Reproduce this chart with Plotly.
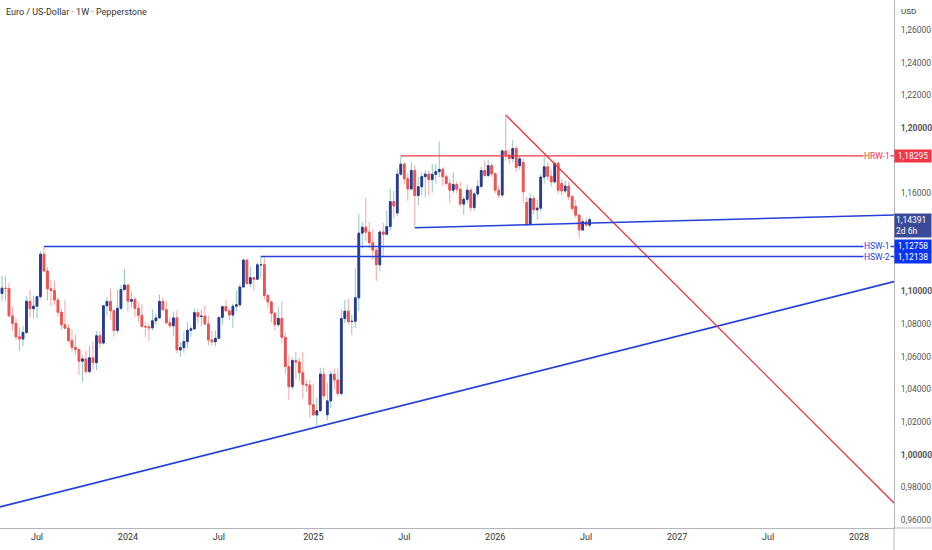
import pandas as pd
import plotly.graph_objects as go

# Weekly EUR/USD candles, Monday dated, from 2023-04-10 to 2026-07-13
first_week = "2023-04-10"

opens = [
    # 2023
    1.0903, 1.0993, 1.0988,
    1.1020, 1.1018, 1.0850, 1.0805, 1.0722,
    1.0709, 1.0749, 1.0940, 1.0894,
    1.0910, 1.0968, 1.1228, 1.1125, 1.1016,
    1.1006, 1.0947, 1.0872, 1.0796,
    1.0775, 1.0700, 1.0657, 1.0645,
    1.0573, 1.0587, 1.0510, 1.0594, 1.0564,
    1.0729, 1.0684, 1.0912, 1.0939,
    1.0882, 1.0761, 1.0897, 1.1012,
    # 2024
    1.1039, 1.0940, 1.0951, 1.0897, 1.0854,
    1.0786, 1.0783, 1.0777, 1.0820,
    1.0838, 1.0939, 1.0888, 1.0808,
    1.0790, 1.0838, 1.0642, 1.0656, 1.0693,
    1.0762, 1.0771, 1.0870, 1.0847,
    1.0849, 1.0801, 1.0703, 1.0692,
    1.0713, 1.0841, 1.0907, 1.0881, 1.0856,
    1.0910, 1.0918, 1.1027, 1.1192,
    1.1048, 1.1084, 1.1075, 1.1163, 1.1164,
    1.0975, 1.0936, 1.0867, 1.0797,
    1.0835, 1.0719, 1.0540, 1.0417,
    1.0577, 1.0568, 1.0502, 1.0431, 1.0427,
    # 2025
    1.0307, 1.0244, 1.0270, 1.0494,
    1.0245, 1.0330, 1.0493, 1.0458,
    1.0375, 1.0834, 1.0879, 1.0816, 1.0817,
    1.0961, 1.1357, 1.1393, 1.1363,
    1.1298, 1.1253, 1.1163, 1.1364,
    1.1350, 1.1397, 1.1550, 1.1480, 1.1718,
    1.1779, 1.1690, 1.1627, 1.1741,
    1.1587, 1.1641, 1.1703, 1.1718,
    1.1685, 1.1717, 1.1733, 1.1747, 1.1702,
    1.1660, 1.1620, 1.1655, 1.1626,
    1.1535, 1.1564, 1.1620, 1.1513,
    1.1597, 1.1643, 1.1740, 1.1710, 1.1770,
    # 2026
    1.1720, 1.1620, 1.1590, 1.1860,
    1.1835, 1.1814, 1.1875, 1.1770,
    1.1790, 1.1545, 1.1410, 1.1569, 1.1500,
    1.1510, 1.1700, 1.1763, 1.1705,
    1.1671, 1.1784, 1.1660, 1.1615,
    1.1645, 1.1580, 1.1520, 1.1467, 1.1376,
    1.1427, 1.1406,
]

highs = [
    # 2023
    1.1075, 1.1000, 1.1095,
    1.1092, 1.1050, 1.0904, 1.0835, 1.0780,
    1.0788, 1.0970, 1.1012, 1.0975,
    1.0976, 1.1245, 1.1276, 1.1149, 1.1071,
    1.1065, 1.0966, 1.0895, 1.0945,
    1.0800, 1.0769, 1.0736, 1.0650,
    1.0608, 1.0640, 1.0668, 1.0695, 1.0756,
    1.0756, 1.0913, 1.0965, 1.1017,
    1.0894, 1.1009, 1.1040, 1.1139,
    # 2024
    1.1046, 1.0998, 1.0968, 1.0933, 1.0926,
    1.0811, 1.0806, 1.0889, 1.0865,
    1.0981, 1.0964, 1.0942, 1.0843,
    1.0876, 1.0885, 1.0690, 1.0753, 1.0812,
    1.0791, 1.0895, 1.0895, 1.0889,
    1.0916, 1.0852, 1.0761, 1.0762,
    1.0843, 1.0909, 1.0948, 1.0897, 1.0926,
    1.1009, 1.1047, 1.1202, 1.1202,
    1.1155, 1.1091, 1.1180, 1.1214, 1.1210,
    1.0990, 1.0945, 1.0871, 1.0905,
    1.0937, 1.0750, 1.0610, 1.0597,
    1.0630, 1.0595, 1.0630, 1.0456, 1.0457,
    # 2025
    1.0437, 1.0353, 1.0533, 1.0532,
    1.0442, 1.0513, 1.0528, 1.0528,
    1.0888, 1.0947, 1.0954, 1.0858, 1.1144,
    1.1474, 1.1426, 1.1573, 1.1425,
    1.1380, 1.1266, 1.1375, 1.1419,
    1.1495, 1.1631, 1.1615, 1.1753, 1.1830,
    1.1793, 1.1720, 1.1789, 1.1770,
    1.1700, 1.1730, 1.1742, 1.1740,
    1.1780, 1.1780, 1.1918, 1.1760, 1.1720,
    1.1690, 1.1728, 1.1670, 1.1670,
    1.1580, 1.1655, 1.1630, 1.1610,
    1.1682, 1.1763, 1.1800, 1.1808, 1.1790,
    # 2026
    1.1730, 1.1650, 1.1870, 1.2080,
    1.1870, 1.1926, 1.1890, 1.1830,
    1.1815, 1.1580, 1.1600, 1.1590, 1.1560,
    1.1720, 1.1824, 1.1790, 1.1745,
    1.1800, 1.1795, 1.1690, 1.1680,
    1.1670, 1.1590, 1.1560, 1.1470, 1.1450,
    1.1450, 1.1455,
]

lows = [
    # 2023
    1.0831, 1.0910, 1.0943,
    1.0942, 1.0850, 1.0760, 1.0703, 1.0635,
    1.0665, 1.0740, 1.0844, 1.0835,
    1.0834, 1.0955, 1.1115, 1.0944, 1.0912,
    1.0917, 1.0845, 1.0766, 1.0770,
    1.0686, 1.0631, 1.0615, 1.0488,
    1.0448, 1.0495, 1.0496, 1.0522, 1.0517,
    1.0655, 1.0675, 1.0852, 1.0828,
    1.0723, 1.0742, 1.0887, 1.1002,
    # 2024
    1.0877, 1.0900, 1.0844, 1.0813, 1.0779,
    1.0722, 1.0695, 1.0762, 1.0796,
    1.0837, 1.0880, 1.0802, 1.0773,
    1.0724, 1.0622, 1.0601, 1.0624, 1.0650,
    1.0723, 1.0763, 1.0805, 1.0788,
    1.0797, 1.0668, 1.0671, 1.0665,
    1.0710, 1.0796, 1.0880, 1.0825, 1.0777,
    1.0880, 1.0905, 1.1022, 1.1042,
    1.1026, 1.1002, 1.1069, 1.1082, 1.0951,
    1.0900, 1.0811, 1.0761, 1.0780,
    1.0682, 1.0496, 1.0335, 1.0400,
    1.0460, 1.0452, 1.0343, 1.0384, 1.0226,
    # 2025
    1.0237, 1.0178, 1.0265, 1.0340,
    1.0210, 1.0285, 1.0401, 1.0359,
    1.0360, 1.0806, 1.0797, 1.0733, 1.0778,
    1.0881, 1.1265, 1.1308, 1.1265,
    1.1193, 1.1065, 1.1126, 1.1210,
    1.1345, 1.1372, 1.1445, 1.1460, 1.1708,
    1.1658, 1.1556, 1.1620, 1.1392,
    1.1528, 1.1590, 1.1575, 1.1585,
    1.1605, 1.1660, 1.1700, 1.1646, 1.1650,
    1.1542, 1.1600, 1.1600, 1.1520,
    1.1468, 1.1540, 1.1490, 1.1495,
    1.1580, 1.1630, 1.1700, 1.1700, 1.1700,
    # 2026
    1.1600, 1.1570, 1.1575, 1.1800,
    1.1780, 1.1790, 1.1730, 1.1745,
    1.1539, 1.1400, 1.1402, 1.1470, 1.1440,
    1.1490, 1.1660, 1.1680, 1.1640,
    1.1660, 1.1600, 1.1590, 1.1600,
    1.1560, 1.1490, 1.1450, 1.1325, 1.1370,
    1.1395, 1.1390,
]

closes = [
    # 2023
    1.0993, 1.0988, 1.1020,
    1.1018, 1.0850, 1.0805, 1.0722, 1.0709,
    1.0749, 1.0940, 1.0894, 1.0910,
    1.0968, 1.1228, 1.1125, 1.1016, 1.1006,
    1.0947, 1.0872, 1.0796, 1.0775,
    1.0700, 1.0657, 1.0645, 1.0573,
    1.0587, 1.0510, 1.0594, 1.0564, 1.0729,
    1.0684, 1.0912, 1.0939, 1.0882,
    1.0761, 1.0897, 1.1012, 1.1039,
    # 2024
    1.0940, 1.0951, 1.0897, 1.0854, 1.0786,
    1.0783, 1.0777, 1.0820, 1.0838,
    1.0939, 1.0888, 1.0808, 1.0790,
    1.0838, 1.0642, 1.0656, 1.0693, 1.0762,
    1.0771, 1.0870, 1.0847, 1.0849,
    1.0801, 1.0703, 1.0692, 1.0713,
    1.0841, 1.0907, 1.0881, 1.0856, 1.0910,
    1.0918, 1.1027, 1.1192, 1.1048,
    1.1084, 1.1075, 1.1163, 1.1164, 1.0975,
    1.0936, 1.0867, 1.0797, 1.0835,
    1.0719, 1.0540, 1.0417, 1.0577,
    1.0568, 1.0502, 1.0431, 1.0427, 1.0307,
    # 2025
    1.0244, 1.0270, 1.0494, 1.0361,
    1.0330, 1.0493, 1.0458, 1.0375,
    1.0834, 1.0879, 1.0816, 1.0817, 1.0961,
    1.1357, 1.1393, 1.1363, 1.1298,
    1.1253, 1.1163, 1.1364, 1.1350,
    1.1397, 1.1550, 1.1523, 1.1718, 1.1779,
    1.1690, 1.1627, 1.1741, 1.1587,
    1.1641, 1.1703, 1.1718, 1.1685,
    1.1717, 1.1733, 1.1747, 1.1702, 1.1660,
    1.1620, 1.1655, 1.1626, 1.1535,
    1.1564, 1.1620, 1.1513, 1.1597,
    1.1643, 1.1740, 1.1710, 1.1770, 1.1720,
    # 2026
    1.1620, 1.1590, 1.1860, 1.1835,
    1.1814, 1.1875, 1.1760, 1.1812,
    1.1610, 1.1410, 1.1569, 1.1500, 1.1510,
    1.1700, 1.1763, 1.1705, 1.1671,
    1.1784, 1.1620, 1.1615, 1.1645,
    1.1580, 1.1508, 1.1467, 1.1376, 1.1427,
    1.1406, 1.1439,
]

# drawn levels and trend lines (date, price)
hrw1_dates = ["2025-06-30", "2028-06-01"]
hrw1_prices = [1.18295, 1.18295]
hsw1_dates = ["2023-07-17", "2028-06-01"]
hsw1_prices = [1.12758, 1.12758]
hsw2_dates = ["2024-09-23", "2028-06-01"]
hsw2_prices = [1.12138, 1.12138]
flat_dates = ["2025-07-28", "2028-03-13"]
flat_prices = [1.1390, 1.1468]
rise_dates = ["2023-04-20", "2028-03-13"]
rise_prices = [0.9681, 1.1060]
fall_dates = ["2026-01-26", "2028-03-13"]
fall_prices = [1.2080, 0.9705]

last_price = 1.14391
countdown = "2d 6h"

x_ticks = ["2023-07-03", "2024-01-01", "2024-07-01", "2025-01-06", "2025-07-07",
           "2026-01-05", "2026-07-06", "2027-01-04", "2027-07-05", "2028-01-03"]
x_labels = ["Jul", "2024", "Jul", "2025", "Jul", "2026", "Jul", "2027", "Jul", "2028"]

y_ticks = [1.26, 1.24, 1.22, 1.20, 1.16, 1.10, 1.08, 1.06, 1.04, 1.02, 1.00, 0.98, 0.96]
y_labels = ["1,26000", "1,24000", "1,22000", "<b>1,20000</b>", "1,16000", "<b>1,10000</b>",
            "1,08000", "1,06000", "1,04000", "1,02000", "<b>1,00000</b>", "0,98000", "0,96000"]

weeks = pd.date_range(first_week, periods=len(closes), freq="W-MON")

UP_BODY = "#2b3990"
UP_WICK = "#8ccac1"
DN_BODY = "#ef5350"
DN_WICK = "#f5a5a3"
RED = "#f23645"
BLUE = "#2440d6"
BOX_BLUE = "#0d33f2"
FONT = "Roboto, sans-serif"

body_hi = [max(o, c) for o, c in zip(opens, closes)]
body_lo = [min(o, c) for o, c in zip(opens, closes)]

fig = go.Figure()

# wicks
fig.add_trace(go.Candlestick(
    x=weeks, open=opens, high=highs, low=lows, close=closes,
    increasing=dict(line=dict(color=UP_WICK, width=1), fillcolor=UP_WICK),
    decreasing=dict(line=dict(color=DN_WICK, width=1), fillcolor=DN_WICK),
    hoverinfo="skip", showlegend=False,
))
# bodies
fig.add_trace(go.Candlestick(
    x=weeks, open=opens, high=body_hi, low=body_lo, close=closes,
    increasing=dict(line=dict(color=UP_BODY, width=1), fillcolor=UP_BODY),
    decreasing=dict(line=dict(color=DN_BODY, width=1), fillcolor=DN_BODY),
    hoverinfo="skip", showlegend=False,
))

for xs, ys, col, w in [
    (rise_dates, rise_prices, BLUE, 1.6),
    (fall_dates, fall_prices, RED, 1.3),
    (hsw1_dates, hsw1_prices, BLUE, 1.5),
    (hsw2_dates, hsw2_prices, BLUE, 1.5),
    (flat_dates, flat_prices, BLUE, 1.5),
    (hrw1_dates, hrw1_prices, RED, 1.2),
]:
    fig.add_trace(go.Scatter(x=xs, y=ys, mode="lines", line=dict(color=col, width=w),
                             hoverinfo="skip", showlegend=False))

annotations = [
    dict(text="Euro / US-Dollar · 1W · Pepperstone", xref="paper", yref="paper",
         x=0, y=1, xanchor="left", yanchor="top", xshift=4, yshift=-5,
         showarrow=False, font=dict(size=9, color="#333333")),
    dict(text="USD", xref="paper", yref="paper", x=1, y=1, xanchor="left", yanchor="top",
         xshift=5, yshift=-5, showarrow=False, font=dict(size=8, color="#333333")),
]

for name, price, col in [("HRW-1", hrw1_prices[0], RED),
                         ("HSW-1", hsw1_prices[0], BLUE),
                         ("HSW-2", hsw2_prices[0], BLUE)]:
    annotations.append(dict(text=name, xref="paper", yref="y", x=1, y=price,
                            xanchor="right", yanchor="middle", xshift=-3, showarrow=False,
                            bgcolor="white", borderpad=0, font=dict(size=8.5, color=col)))

for price, col in [(hrw1_prices[0], RED), (hsw1_prices[0], BOX_BLUE), (hsw2_prices[0], BOX_BLUE)]:
    annotations.append(dict(text=f"{price:.5f}".replace(".", ","), xref="paper", yref="y",
                            x=1, y=price, xanchor="left", yanchor="middle", xshift=0,
                            showarrow=False, bgcolor=col, width=34, height=10, borderpad=1,
                            font=dict(size=8.5, color="white")))

annotations.append(dict(text=f"{last_price:.5f}".replace(".", ",") + "<br>" + countdown,
                        xref="paper", yref="y", x=1, y=last_price, xanchor="left",
                        yanchor="top", xshift=0, yshift=7, showarrow=False,
                        bgcolor="#3b4a96", width=34, borderpad=1, align="left",
                        font=dict(size=8.5, color="white")))

fig.update_layout(
    width=932, height=550,
    margin=dict(l=0, r=36, t=0, b=22),
    paper_bgcolor="white", plot_bgcolor="white",
    font=dict(family=FONT, size=9, color="#333333"),
    showlegend=False,
    annotations=annotations,
    xaxis=dict(
        type="date", range=["2023-04-20", "2028-03-13"],
        rangeslider=dict(visible=False),
        tickvals=x_ticks, ticktext=x_labels, ticks="",
        showgrid=False, zeroline=False,
        showline=True, linecolor="#b2b5be", linewidth=1,
        tickfont=dict(size=9, color="#333333"),
    ),
    yaxis=dict(
        side="right", range=[0.9552, 1.2784],
        tickvals=y_ticks, ticktext=y_labels, ticks="",
        showgrid=False, zeroline=False,
        showline=True, linecolor="#b2b5be", linewidth=1,
        tickfont=dict(size=8.5, color="#555555"),
        ticklabelstandoff=4,
    ),
    shapes=[
        dict(type="line", xref="paper", yref="paper", x0=1, x1=1.05, y0=0, y1=0,
             line=dict(color="#b2b5be", width=1)),
        dict(type="line", xref="paper", yref="paper", x0=1, x1=1, y0=0, y1=-0.06,
             line=dict(color="#b2b5be", width=1)),
    ],
)

fig.write_html("out.html", config={"displayModeBar": False},
               post_script="document.body.style.margin='0';")
